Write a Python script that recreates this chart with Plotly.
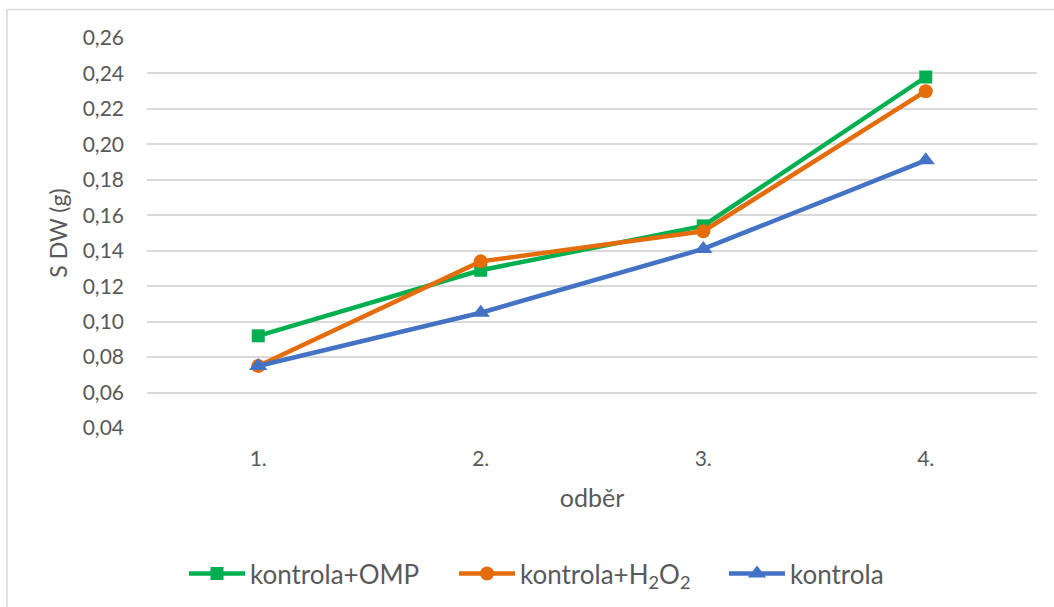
import plotly.graph_objects as go

categories = ["1.", "2.", "3.", "4."]
omp = [0.092, 0.129, 0.154, 0.238]
h2o2 = [0.075, 0.134, 0.151, 0.230]
kontrola = [0.075, 0.105, 0.141, 0.191]

series_names = ["kontrola+OMP", "kontrola+H<sub>2</sub>O<sub>2</sub>", "kontrola"]
y_ticks = [0.04, 0.06, 0.08, 0.10, 0.12, 0.14, 0.16, 0.18, 0.20, 0.22, 0.24, 0.26]

FONT = "Lato"
TXT = "#595959"

fig = go.Figure()
fig.add_trace(go.Scatter(x=categories, y=omp, name=series_names[0], mode="lines+markers",
                         line=dict(color="#00B050", width=4.5),
                         marker=dict(symbol="square", size=13, color="#00B050")))
fig.add_trace(go.Scatter(x=categories, y=h2o2, name=series_names[1], mode="lines+markers",
                         line=dict(color="#E46C0A", width=4.5),
                         marker=dict(symbol="circle", size=14, color="#E46C0A")))
fig.add_trace(go.Scatter(x=categories, y=kontrola, name=series_names[2], mode="lines+markers",
                         line=dict(color="#4472C4", width=4.5),
                         marker=dict(symbol="triangle-up", size=16, color="#4472C4")))

fig.update_layout(
    width=1054, height=607,
    margin=dict(l=147, r=17, t=38, b=179, autoexpand=False),
    paper_bgcolor="white", plot_bgcolor="white",
    separators=",.",
    font=dict(family=FONT, color=TXT, size=21),
    showlegend=True,
    legend=dict(orientation="h", xref="container", yref="container",
                x=184 / 1054, xanchor="left", y=0.055, yanchor="middle",
                font=dict(family=FONT, size=26, color=TXT),
                itemwidth=56, entrywidth=199, entrywidthmode="pixels",
                tracegroupgap=0, bgcolor="rgba(0,0,0,0)"),
    shapes=[dict(type="rect", xref="paper", yref="paper",
                 x0=-0.1573, x1=1.05, y0=-0.6, y1=1.0731,
                 line=dict(color="#D9D9D9", width=1.5), fillcolor="rgba(0,0,0,0)", layer="below")],
)

fig.update_xaxes(type="category", range=[-0.5, 3.5], showgrid=False, zeroline=False,
                 showline=False, ticks="", ticklabelstandoff=16,
                 tickfont=dict(family=FONT, size=21, color=TXT),
                 title=dict(text="odběr", font=dict(family=FONT, size=25, color=TXT), standoff=20))
fig.update_yaxes(range=[0.04, 0.26], tickvals=y_ticks, tickformat=".2f",
                 showgrid=True, gridcolor="#D9D9D9", gridwidth=2, zeroline=False,
                 showline=False, ticks="", ticklabelstandoff=22,
                 tickfont=dict(family=FONT, size=21, color=TXT),
                 title=dict(text="S DW (g)", font=dict(family=FONT, size=23, color=TXT), standoff=8))

fig.write_html("out.html", config={"displayModeBar": False},
               post_script="document.body.style.margin='0';")
